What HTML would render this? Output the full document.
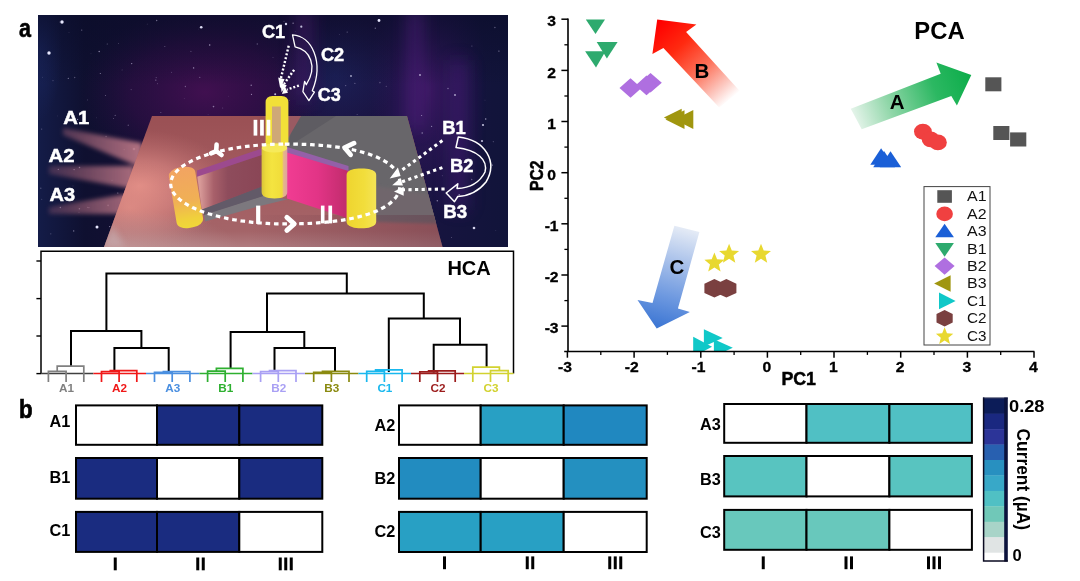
<!DOCTYPE html>
<html><head><meta charset="utf-8"><title>Figure</title>
<style>
html,body{margin:0;padding:0;background:#fff;}
body{width:1080px;height:581px;overflow:hidden;font-family:"Liberation Sans",sans-serif;}
svg{display:block;font-family:"Liberation Sans",sans-serif;}
</style></head><body>
<svg width="1080" height="581" viewBox="0 0 1080 581">
<defs><filter id="soft" x="0" y="0" width="100%" height="100%" filterUnits="userSpaceOnUse" color-interpolation-filters="sRGB"><feGaussianBlur stdDeviation="0.35"/></filter></defs>
<rect width="1080" height="581" fill="#fff"/>
<g filter="url(#soft)">
<rect width="1080" height="581" fill="#fff"/>
<!-- panel a scene -->
<defs>
<clipPath id="sc"><rect x="38" y="15" width="470" height="232"/></clipPath>
<clipPath id="plat"><polygon points="152,116 407,116 442.5,247 104,247"/></clipPath>
<linearGradient id="bg0" x1="0" y1="0" x2="1" y2="0"><stop offset="0" stop-color="#141c48"/><stop offset="0.1" stop-color="#0f1030"/><stop offset="0.45" stop-color="#1c0e3a"/><stop offset="0.75" stop-color="#1a1442"/><stop offset="1" stop-color="#11143a"/></linearGradient>
<radialGradient id="pur1" cx="0.5" cy="0.5" r="0.5"><stop offset="0" stop-color="#4a1056" stop-opacity="0.95"/><stop offset="0.6" stop-color="#3a0e4c" stop-opacity="0.55"/><stop offset="1" stop-color="#2a0e44" stop-opacity="0"/></radialGradient>
<radialGradient id="pur2" cx="0.5" cy="0.5" r="0.5"><stop offset="0" stop-color="#4a1a70" stop-opacity="0.8"/><stop offset="1" stop-color="#301460" stop-opacity="0"/></radialGradient>
<radialGradient id="blu1" cx="0.5" cy="0.5" r="0.5"><stop offset="0" stop-color="#1c2a68" stop-opacity="0.8"/><stop offset="1" stop-color="#1c2a68" stop-opacity="0"/></radialGradient>
<linearGradient id="platg" gradientUnits="userSpaceOnUse" x1="0" y1="116" x2="0" y2="247"><stop offset="0" stop-color="#9a5054"/><stop offset="0.5" stop-color="#a45c60"/><stop offset="0.88" stop-color="#a46468"/><stop offset="1" stop-color="#b07c80"/></linearGradient>
<radialGradient id="glow" cx="0.5" cy="0.5" r="0.5"><stop offset="0" stop-color="#e8948a" stop-opacity="1"/><stop offset="0.45" stop-color="#d68480" stop-opacity="0.65"/><stop offset="1" stop-color="#c07070" stop-opacity="0"/></radialGradient>
<linearGradient id="pinkg" gradientUnits="userSpaceOnUse" x1="288" y1="0" x2="348" y2="0"><stop offset="0" stop-color="#f03c92"/><stop offset="0.5" stop-color="#e23486"/><stop offset="1" stop-color="#c02c6c"/></linearGradient>
<linearGradient id="cylR" gradientUnits="userSpaceOnUse" x1="346" y1="0" x2="377" y2="0"><stop offset="0" stop-color="#eed42e"/><stop offset="0.6" stop-color="#f2de3c"/><stop offset="1" stop-color="#f4e458"/></linearGradient>
<linearGradient id="cylL" gradientUnits="userSpaceOnUse" x1="0" y1="168" x2="0" y2="228"><stop offset="0" stop-color="#f2a462"/><stop offset="0.55" stop-color="#f0b055"/><stop offset="0.85" stop-color="#f0d03c"/><stop offset="1" stop-color="#f0d838"/></linearGradient>
<linearGradient id="cylC" gradientUnits="userSpaceOnUse" x1="261" y1="0" x2="288" y2="0"><stop offset="0" stop-color="#d6c03a"/><stop offset="0.18" stop-color="#ecd93a"/><stop offset="0.4" stop-color="#f4e440"/><stop offset="0.78" stop-color="#f0dc3a"/><stop offset="0.84" stop-color="#e6b48c"/><stop offset="1" stop-color="#dca0a0"/></linearGradient>
<linearGradient id="wallL" gradientUnits="userSpaceOnUse" x1="200" y1="0" x2="262" y2="0"><stop offset="0" stop-color="#d89a98"/><stop offset="0.22" stop-color="#a8606a"/><stop offset="0.45" stop-color="#8e4c5c"/><stop offset="1" stop-color="#8a4656"/></linearGradient>
<linearGradient id="beam" gradientUnits="userSpaceOnUse" x1="50" y1="0" x2="140" y2="0"><stop offset="0" stop-color="#9c5c74" stop-opacity="0.35"/><stop offset="0.5" stop-color="#a4667a" stop-opacity="0.7"/><stop offset="1" stop-color="#b87684" stop-opacity="0.95"/></linearGradient>
<linearGradient id="topdark" x1="0" y1="0" x2="0" y2="1"><stop offset="0" stop-color="#0a0c28" stop-opacity="0.6"/><stop offset="1" stop-color="#0a0c28" stop-opacity="0"/></linearGradient>
<linearGradient id="rdark" gradientUnits="userSpaceOnUse" x1="250" y1="0" x2="445" y2="0"><stop offset="0" stop-color="#603040" stop-opacity="0"/><stop offset="1" stop-color="#603040" stop-opacity="0.4"/></linearGradient>
<radialGradient id="lbl" cx="0.5" cy="0.5" r="0.5"><stop offset="0" stop-color="#c8a4a4" stop-opacity="0.6"/><stop offset="1" stop-color="#c8a4a4" stop-opacity="0"/></radialGradient>
<filter id="bl3" x="-20%" y="-20%" width="140%" height="140%"><feGaussianBlur stdDeviation="3"/></filter>
<filter id="bl2b" x="-20%" y="-40%" width="140%" height="180%"><feGaussianBlur stdDeviation="2.3"/></filter>
<filter id="bl2" x="-20%" y="-20%" width="140%" height="140%"><feGaussianBlur stdDeviation="1.6"/></filter>
<filter id="bl8" x="-30%" y="-30%" width="160%" height="160%"><feGaussianBlur stdDeviation="8"/></filter>
<filter id="bl1" x="-20%" y="-20%" width="140%" height="140%"><feGaussianBlur stdDeviation="0.7"/></filter>
</defs>
<g clip-path="url(#sc)">
<rect x="38" y="15" width="470" height="232" fill="url(#bg0)"/>
<ellipse cx="205" cy="92" rx="125" ry="85" fill="url(#pur1)" opacity="0.85"/>
<ellipse cx="428" cy="90" rx="60" ry="130" fill="url(#pur2)" opacity="0.85"/>
<ellipse cx="335" cy="75" rx="60" ry="65" fill="url(#blu1)" opacity="0.7"/>
<ellipse cx="40" cy="50" rx="22" ry="70" fill="url(#blu1)" opacity="0.7"/>
<rect x="38" y="15" width="470" height="70" fill="url(#topdark)"/>
<g filter="url(#bl8)" opacity="0.5"><rect x="408" y="10" width="14" height="120" fill="#5a2088"/><rect x="450" y="60" width="18" height="150" fill="#4a1c78"/><rect x="296" y="10" width="16" height="90" fill="#501a70"/></g>
<circle cx="62" cy="22" r="1.7" fill="#e8e8ff" opacity="1" filter="url(#bl1)"/>
<circle cx="49" cy="53" r="1.7" fill="#e8e8ff" opacity="1" filter="url(#bl1)"/>
<circle cx="379" cy="20.5" r="1.4" fill="#e8e8ff" opacity="1" filter="url(#bl1)"/>
<circle cx="97" cy="227" r="1.5" fill="#e8e8ff" opacity="1" filter="url(#bl1)"/>
<circle cx="134" cy="149" r="1.3" fill="#e8e8ff" opacity="0.9" filter="url(#bl1)"/>
<circle cx="286" cy="24" r="1.2" fill="#e8e8ff" opacity="0.9" filter="url(#bl1)"/>
<circle cx="474" cy="228" r="1.3" fill="#e8e8ff" opacity="0.9" filter="url(#bl1)"/>
<circle cx="483" cy="125" r="1.1" fill="#e8e8ff" opacity="0.8" filter="url(#bl1)"/>
<circle cx="201.2" cy="27.2" r="1.3" fill="#e8e8ff" opacity="0.95" filter="url(#bl1)"/>
<circle cx="301.3" cy="26.7" r="1.1" fill="#e8e8ff" opacity="0.8" filter="url(#bl1)"/>
<circle cx="275.2" cy="94.2" r="1.0" fill="#e8e8ff" opacity="0.8" filter="url(#bl1)"/>
<circle cx="482" cy="141" r="1.1" fill="#e8e8ff" opacity="0.8" filter="url(#bl1)"/>
<circle cx="351" cy="76" r="0.9" fill="#e8e8ff" opacity="0.7" filter="url(#bl1)"/>
<circle cx="420" cy="75" r="0.9" fill="#e8e8ff" opacity="0.7" filter="url(#bl1)"/>
<circle cx="455" cy="95" r="0.9" fill="#e8e8ff" opacity="0.7" filter="url(#bl1)"/>
<circle cx="190.9" cy="51.4" r="0.64" fill="#d8d0f0" opacity="0.28"/>
<circle cx="289.7" cy="100.4" r="0.38" fill="#d8d0f0" opacity="0.48"/>
<circle cx="57.5" cy="115.9" r="0.38" fill="#d8d0f0" opacity="0.29"/>
<circle cx="237.8" cy="205.5" r="0.41" fill="#d8d0f0" opacity="0.35"/>
<circle cx="332.4" cy="233.1" r="0.61" fill="#d8d0f0" opacity="0.43"/>
<circle cx="494.9" cy="27.6" r="0.74" fill="#d8d0f0" opacity="0.38"/>
<circle cx="107.2" cy="43.9" r="0.49" fill="#d8d0f0" opacity="0.62"/>
<circle cx="124.2" cy="149.6" r="0.64" fill="#d8d0f0" opacity="0.42"/>
<circle cx="295.2" cy="31.3" r="0.38" fill="#d8d0f0" opacity="0.34"/>
<circle cx="357.1" cy="114.5" r="0.49" fill="#d8d0f0" opacity="0.51"/>
<circle cx="251.2" cy="85.3" r="0.71" fill="#d8d0f0" opacity="0.56"/>
<circle cx="153.7" cy="148.0" r="0.59" fill="#d8d0f0" opacity="0.64"/>
<circle cx="379.9" cy="82.6" r="0.79" fill="#d8d0f0" opacity="0.30"/>
<circle cx="234.8" cy="189.6" r="0.42" fill="#d8d0f0" opacity="0.47"/>
<circle cx="58.3" cy="169.4" r="0.69" fill="#d8d0f0" opacity="0.51"/>
<circle cx="448.0" cy="88.5" r="0.66" fill="#d8d0f0" opacity="0.52"/>
<circle cx="310.2" cy="121.0" r="0.73" fill="#d8d0f0" opacity="0.68"/>
<circle cx="260.9" cy="168.4" r="0.38" fill="#d8d0f0" opacity="0.57"/>
<circle cx="341.6" cy="243.4" r="0.72" fill="#d8d0f0" opacity="0.38"/>
<circle cx="219.8" cy="169.5" r="0.36" fill="#d8d0f0" opacity="0.46"/>
<circle cx="118.3" cy="43.7" r="0.38" fill="#d8d0f0" opacity="0.60"/>
<circle cx="100.3" cy="73.5" r="0.53" fill="#d8d0f0" opacity="0.64"/>
<circle cx="77.6" cy="119.4" r="0.60" fill="#d8d0f0" opacity="0.65"/>
<circle cx="421.8" cy="214.0" r="0.48" fill="#d8d0f0" opacity="0.44"/>
<circle cx="207.2" cy="218.6" r="0.78" fill="#d8d0f0" opacity="0.32"/>
<circle cx="122.1" cy="69.9" r="0.46" fill="#d8d0f0" opacity="0.47"/>
<circle cx="314.5" cy="76.9" r="0.35" fill="#d8d0f0" opacity="0.44"/>
<circle cx="212.1" cy="146.1" r="0.78" fill="#d8d0f0" opacity="0.56"/>
<circle cx="280.2" cy="157.8" r="0.65" fill="#d8d0f0" opacity="0.27"/>
<circle cx="459.2" cy="194.8" r="0.74" fill="#d8d0f0" opacity="0.61"/>
<circle cx="222.8" cy="108.0" r="0.40" fill="#d8d0f0" opacity="0.54"/>
<circle cx="69.0" cy="32.4" r="0.44" fill="#d8d0f0" opacity="0.32"/>
<circle cx="198.5" cy="29.0" r="0.35" fill="#d8d0f0" opacity="0.32"/>
<circle cx="87.3" cy="99.9" r="0.36" fill="#d8d0f0" opacity="0.64"/>
<circle cx="326.2" cy="50.9" r="0.46" fill="#d8d0f0" opacity="0.41"/>
<circle cx="209.7" cy="45.0" r="0.73" fill="#d8d0f0" opacity="0.70"/>
<circle cx="257.2" cy="127.3" r="0.39" fill="#d8d0f0" opacity="0.30"/>
<circle cx="199.7" cy="77.4" r="0.72" fill="#d8d0f0" opacity="0.32"/>
<circle cx="50.8" cy="233.8" r="0.59" fill="#d8d0f0" opacity="0.32"/>
<circle cx="293.1" cy="23.2" r="0.59" fill="#d8d0f0" opacity="0.69"/>
<circle cx="442.3" cy="175.7" r="0.47" fill="#d8d0f0" opacity="0.42"/>
<circle cx="117.8" cy="193.0" r="0.59" fill="#d8d0f0" opacity="0.60"/>
<circle cx="193.6" cy="67.9" r="0.72" fill="#d8d0f0" opacity="0.69"/>
<circle cx="437.3" cy="200.8" r="0.72" fill="#d8d0f0" opacity="0.58"/>
<circle cx="145.7" cy="135.0" r="0.51" fill="#d8d0f0" opacity="0.26"/>
<circle cx="53.0" cy="80.7" r="0.47" fill="#d8d0f0" opacity="0.56"/>
<circle cx="485.7" cy="119.0" r="0.77" fill="#d8d0f0" opacity="0.69"/>
<circle cx="485.0" cy="100.1" r="0.45" fill="#d8d0f0" opacity="0.35"/>
<circle cx="131.7" cy="63.6" r="0.63" fill="#d8d0f0" opacity="0.66"/>
<circle cx="431.6" cy="126.3" r="0.64" fill="#d8d0f0" opacity="0.61"/>
<circle cx="79.5" cy="167.6" r="0.76" fill="#d8d0f0" opacity="0.60"/>
<circle cx="389.6" cy="126.0" r="0.43" fill="#d8d0f0" opacity="0.61"/>
<circle cx="195.0" cy="199.6" r="0.79" fill="#d8d0f0" opacity="0.43"/>
<circle cx="227.0" cy="232.9" r="0.68" fill="#d8d0f0" opacity="0.33"/>
<circle cx="99.2" cy="51.5" r="0.76" fill="#d8d0f0" opacity="0.61"/>
<circle cx="108.1" cy="205.4" r="0.79" fill="#d8d0f0" opacity="0.55"/>
<circle cx="203.3" cy="142.1" r="0.41" fill="#d8d0f0" opacity="0.26"/>
<circle cx="492.4" cy="165.1" r="0.59" fill="#d8d0f0" opacity="0.67"/>
<circle cx="242.2" cy="215.8" r="0.72" fill="#d8d0f0" opacity="0.34"/>
<circle cx="157.4" cy="83.8" r="0.46" fill="#d8d0f0" opacity="0.51"/>
<circle cx="160.9" cy="112.5" r="0.41" fill="#d8d0f0" opacity="0.66"/>
<circle cx="204.9" cy="121.5" r="0.61" fill="#d8d0f0" opacity="0.66"/>
<circle cx="236.0" cy="226.2" r="0.58" fill="#d8d0f0" opacity="0.49"/>
<circle cx="284.0" cy="21.3" r="0.55" fill="#d8d0f0" opacity="0.33"/>
<circle cx="41.8" cy="199.2" r="0.43" fill="#d8d0f0" opacity="0.46"/>
<circle cx="377.9" cy="143.9" r="0.50" fill="#d8d0f0" opacity="0.48"/>
<circle cx="298.8" cy="195.8" r="0.40" fill="#d8d0f0" opacity="0.50"/>
<circle cx="155.8" cy="80.1" r="0.70" fill="#d8d0f0" opacity="0.48"/>
<circle cx="301.8" cy="190.3" r="0.76" fill="#d8d0f0" opacity="0.45"/>
<circle cx="325.4" cy="132.3" r="0.58" fill="#d8d0f0" opacity="0.56"/>
<circle cx="250.8" cy="138.6" r="0.57" fill="#d8d0f0" opacity="0.67"/>
<circle cx="365.8" cy="216.9" r="0.77" fill="#d8d0f0" opacity="0.37"/>
<circle cx="300.7" cy="232.1" r="0.73" fill="#d8d0f0" opacity="0.31"/>
<circle cx="96.7" cy="117.8" r="0.38" fill="#d8d0f0" opacity="0.36"/>
<circle cx="74.1" cy="169.6" r="0.70" fill="#d8d0f0" opacity="0.65"/>
<circle cx="112.0" cy="180.3" r="0.65" fill="#d8d0f0" opacity="0.31"/>
<circle cx="451.4" cy="237.6" r="0.45" fill="#d8d0f0" opacity="0.68"/>
<circle cx="225.6" cy="128.1" r="0.80" fill="#d8d0f0" opacity="0.62"/>
<circle cx="115.2" cy="115.4" r="0.58" fill="#d8d0f0" opacity="0.40"/>
<circle cx="131.2" cy="89.6" r="0.67" fill="#d8d0f0" opacity="0.26"/>
<circle cx="298.2" cy="117.4" r="0.36" fill="#d8d0f0" opacity="0.40"/>
<circle cx="330.8" cy="133.8" r="0.38" fill="#d8d0f0" opacity="0.69"/>
<circle cx="407.4" cy="238.5" r="0.40" fill="#d8d0f0" opacity="0.37"/>
<circle cx="58.4" cy="194.6" r="0.47" fill="#d8d0f0" opacity="0.31"/>
<circle cx="236.8" cy="224.8" r="0.72" fill="#d8d0f0" opacity="0.37"/>
<circle cx="109.6" cy="226.6" r="0.61" fill="#d8d0f0" opacity="0.57"/>
<circle cx="81.7" cy="30.1" r="0.66" fill="#d8d0f0" opacity="0.44"/>
<circle cx="73.7" cy="230.9" r="0.64" fill="#d8d0f0" opacity="0.61"/>
<circle cx="79.0" cy="212.2" r="0.38" fill="#d8d0f0" opacity="0.64"/>
<circle cx="251.5" cy="94.3" r="0.60" fill="#d8d0f0" opacity="0.67"/>
<circle cx="164.8" cy="46.5" r="0.59" fill="#d8d0f0" opacity="0.36"/>
<circle cx="91.0" cy="53.8" r="0.37" fill="#d8d0f0" opacity="0.34"/>
<circle cx="185.4" cy="86.5" r="0.69" fill="#d8d0f0" opacity="0.38"/>
<circle cx="273.0" cy="57.6" r="0.51" fill="#d8d0f0" opacity="0.26"/>
<circle cx="156.7" cy="20.5" r="0.68" fill="#d8d0f0" opacity="0.50"/>
<circle cx="128.3" cy="125.2" r="0.77" fill="#d8d0f0" opacity="0.30"/>
<circle cx="421.6" cy="115.5" r="0.57" fill="#d8d0f0" opacity="0.63"/>
<circle cx="223.2" cy="132.5" r="0.66" fill="#d8d0f0" opacity="0.69"/>
<circle cx="199.7" cy="206.8" r="0.67" fill="#d8d0f0" opacity="0.54"/>
<circle cx="228.6" cy="96.2" r="0.37" fill="#d8d0f0" opacity="0.31"/>
<circle cx="73.0" cy="185.9" r="0.47" fill="#d8d0f0" opacity="0.32"/>
<circle cx="79.4" cy="208.8" r="0.74" fill="#d8d0f0" opacity="0.55"/>
<circle cx="171.4" cy="72.2" r="0.48" fill="#d8d0f0" opacity="0.46"/>
<circle cx="113.4" cy="118.6" r="0.47" fill="#d8d0f0" opacity="0.68"/>
<circle cx="493.2" cy="141.7" r="0.46" fill="#d8d0f0" opacity="0.68"/>
<circle cx="184.2" cy="98.3" r="0.35" fill="#d8d0f0" opacity="0.42"/>
<circle cx="261.2" cy="131.6" r="0.44" fill="#d8d0f0" opacity="0.48"/>
<circle cx="42.3" cy="77.2" r="0.39" fill="#d8d0f0" opacity="0.43"/>
<circle cx="59.4" cy="22.1" r="0.49" fill="#d8d0f0" opacity="0.35"/>
<circle cx="312.9" cy="137.7" r="0.69" fill="#d8d0f0" opacity="0.55"/>
<circle cx="373.7" cy="217.4" r="0.53" fill="#d8d0f0" opacity="0.40"/>
<circle cx="498.9" cy="51.1" r="0.68" fill="#d8d0f0" opacity="0.54"/>
<circle cx="60.4" cy="207.4" r="0.75" fill="#d8d0f0" opacity="0.53"/>
<circle cx="382.0" cy="202.2" r="0.41" fill="#d8d0f0" opacity="0.49"/>
<circle cx="275.0" cy="207.4" r="0.71" fill="#d8d0f0" opacity="0.62"/>
<circle cx="312.2" cy="220.6" r="0.66" fill="#d8d0f0" opacity="0.56"/>
<circle cx="147.2" cy="24.1" r="0.41" fill="#d8d0f0" opacity="0.41"/>
<circle cx="88.9" cy="207.6" r="0.60" fill="#d8d0f0" opacity="0.53"/>
<circle cx="331.8" cy="172.2" r="0.57" fill="#d8d0f0" opacity="0.25"/>
<circle cx="411.7" cy="187.6" r="0.58" fill="#d8d0f0" opacity="0.49"/>
<circle cx="347.2" cy="32.1" r="0.68" fill="#d8d0f0" opacity="0.36"/>
<circle cx="74.7" cy="77.5" r="0.68" fill="#d8d0f0" opacity="0.34"/>
<circle cx="384.8" cy="239.5" r="0.57" fill="#d8d0f0" opacity="0.42"/>
<circle cx="263.2" cy="172.9" r="0.70" fill="#d8d0f0" opacity="0.53"/>
<circle cx="339.5" cy="34.7" r="0.42" fill="#d8d0f0" opacity="0.36"/>
<circle cx="386.3" cy="86.4" r="0.61" fill="#d8d0f0" opacity="0.26"/>
<circle cx="68.3" cy="78.3" r="0.65" fill="#d8d0f0" opacity="0.56"/>
<circle cx="354.9" cy="83.3" r="0.58" fill="#d8d0f0" opacity="0.46"/>
<circle cx="257.3" cy="44.0" r="0.75" fill="#d8d0f0" opacity="0.34"/>
<circle cx="495.8" cy="230.5" r="0.36" fill="#d8d0f0" opacity="0.46"/>
<circle cx="422.1" cy="237.7" r="0.55" fill="#d8d0f0" opacity="0.37"/>
<circle cx="137.8" cy="232.6" r="0.44" fill="#d8d0f0" opacity="0.51"/>
<circle cx="106.1" cy="136.5" r="0.78" fill="#d8d0f0" opacity="0.31"/>
<circle cx="422.2" cy="133.0" r="0.75" fill="#d8d0f0" opacity="0.57"/>
<circle cx="147.8" cy="221.7" r="0.57" fill="#d8d0f0" opacity="0.26"/>
<circle cx="41.7" cy="129.1" r="0.55" fill="#d8d0f0" opacity="0.39"/>
<circle cx="105.6" cy="95.4" r="0.49" fill="#d8d0f0" opacity="0.63"/>
<circle cx="40.8" cy="188.2" r="0.73" fill="#d8d0f0" opacity="0.30"/>
<circle cx="471.7" cy="179.6" r="0.76" fill="#d8d0f0" opacity="0.38"/>
<circle cx="213.5" cy="106.6" r="0.80" fill="#d8d0f0" opacity="0.52"/>
<circle cx="208.1" cy="114.6" r="0.47" fill="#d8d0f0" opacity="0.27"/>
<circle cx="87.4" cy="207.3" r="0.48" fill="#d8d0f0" opacity="0.67"/>
<circle cx="156.2" cy="77.6" r="0.58" fill="#d8d0f0" opacity="0.34"/>
<circle cx="214.0" cy="235.0" r="0.75" fill="#d8d0f0" opacity="0.62"/>
<circle cx="334.0" cy="225.3" r="0.77" fill="#d8d0f0" opacity="0.50"/>
<circle cx="375.3" cy="28.3" r="0.68" fill="#d8d0f0" opacity="0.45"/>
<circle cx="390.7" cy="163.9" r="0.48" fill="#d8d0f0" opacity="0.27"/>
<circle cx="471.9" cy="46.0" r="0.56" fill="#d8d0f0" opacity="0.40"/>
<circle cx="178.8" cy="185.5" r="0.79" fill="#d8d0f0" opacity="0.37"/>
<circle cx="345.7" cy="85.6" r="0.60" fill="#d8d0f0" opacity="0.43"/>
<g filter="url(#bl2b)">
<polygon points="63,128 63,135 142,168 142,143" fill="url(#beam)"/>
<polygon points="49,166 49,174 134,189 134,166" fill="url(#beam)"/>
<polygon points="49,207 49,214 126,214 126,194" fill="url(#beam)"/>
</g>
<polygon points="152,116 407,116 442.5,247 104,247" fill="url(#platg)"/>
<g clip-path="url(#plat)">
<ellipse cx="140" cy="186" rx="95" ry="56" fill="url(#glow)"/>
<ellipse cx="130" cy="208" rx="85" ry="50" fill="url(#glow)" opacity="0.6"/>
<ellipse cx="125" cy="250" rx="115" ry="40" fill="url(#lbl)"/>
<polygon points="104,247 125,247 112,225" fill="#c8b0b4" opacity="0.6" filter="url(#bl3)"/>
<polygon points="289,116 410,116 445,222 374,217 347,217 347,170 288,150 286,143" fill="#68666a"/>
<polygon points="294,116 336,116 288,147" fill="#5e5c62"/>
<polygon points="287,116 301,116 287,140" fill="#9a5a62"/>
<polygon points="376,186 440,196 445,224 376,222" fill="#70666c" filter="url(#bl2)"/>
<rect x="250" y="215" width="200" height="35" fill="url(#rdark)"/>
<polygon points="201.8,209 262,186 263.5,196.5 204,215.5" fill="#625a68"/>
<polygon points="204,215 263.5,196 288,199.2 262,205.5 205,221.5" fill="#7c787e"/>
</g>
<polygon points="197,174 262,153 262,186.4 201.8,209.4" fill="url(#wallL)"/>
<polygon points="197,170.5 262,148.5 262,155 197,176.8" fill="#9c4a8e"/>
<polygon points="287,151 348.5,170 347,218 287,198.5" fill="url(#pinkg)"/>
<polygon points="287,147 348.5,166 348.5,171 287,152.5" fill="#9460a8"/>
<path d="M265.6,146 V102.5 Q265.6,96 272.5,96 H281.5 Q288.4,96 288.4,102.5 V146 Z" fill="#f2e038"/>
<rect x="272" y="106.5" width="8.8" height="38" fill="#cfa877"/>
<path d="M261.6,148 Q261.6,143.4 268,143.4 H281 Q287.3,143.4 287.3,148 V192 Q287.3,198.4 274.5,198.4 Q261.6,198.4 261.6,192 Z" fill="url(#cylC)"/>
<ellipse cx="274.5" cy="148" rx="12.6" ry="4.6" fill="#f6ea5a"/>
<g transform="rotate(-9.5 186 197.5)"><rect x="172.6" y="166.8" width="26.8" height="61.2" rx="11.5" ry="7" fill="url(#cylL)"/></g>
<rect x="346.6" y="168.4" width="29.6" height="59.8" rx="12" ry="6.5" fill="url(#cylR)"/>
<polygon points="284.9,144.1 289.7,144.1 293.7,144.1 297.5,144.2 301.0,144.3 304.5,144.4 307.8,144.5 311.1,144.7 314.2,144.9 317.4,145.1 320.4,145.3 323.4,145.5 326.3,145.8 329.2,146.1 332.0,146.4 334.8,146.8 337.5,147.1 340.2,147.5 342.8,147.9 345.3,148.3 347.8,148.8 350.3,149.3 352.7,149.8 355.0,150.3 357.3,150.8 359.6,151.4 361.8,152.0 363.9,152.6 366.0,153.2 368.0,153.8 370.0,154.5 371.9,155.2 373.7,155.9 375.5,156.6 377.3,157.3 378.9,158.1 380.5,158.9 382.1,159.7 383.6,160.5 385.0,161.3 386.4,162.2 387.7,163.0 388.9,163.9 390.1,164.8 391.2,165.8 392.2,166.7 393.2,167.7 394.1,168.6 395.0,169.6 395.8,170.6 396.5,171.7 397.1,172.7 397.7,173.8 398.2,174.9 398.7,176.0 399.0,177.2 399.4,178.4 399.6,179.6 399.8,180.9 399.9,182.3 399.9,184.0 399.9,185.7 399.8,187.1 399.6,188.4 399.4,189.6 399.0,190.8 398.7,192.0 398.2,193.1 397.7,194.2 397.1,195.3 396.5,196.3 395.8,197.4 395.0,198.4 394.1,199.4 393.2,200.3 392.2,201.3 391.2,202.2 390.1,203.2 388.9,204.1 387.7,205.0 386.4,205.8 385.0,206.7 383.6,207.5 382.1,208.3 380.5,209.1 378.9,209.9 377.3,210.7 375.5,211.4 373.7,212.1 371.9,212.8 370.0,213.5 368.0,214.2 366.0,214.8 363.9,215.4 361.8,216.0 359.6,216.6 357.3,217.2 355.0,217.7 352.7,218.2 350.3,218.7 347.8,219.2 345.3,219.7 342.8,220.1 340.2,220.5 337.5,220.9 334.8,221.2 332.0,221.6 329.2,221.9 326.3,222.2 323.4,222.5 320.4,222.7 317.4,222.9 314.2,223.1 311.1,223.3 307.8,223.5 304.5,223.6 301.0,223.7 297.5,223.8 293.7,223.9 289.7,223.9 284.9,223.9 281.9,223.9 278.9,223.8 275.9,223.8 273.0,223.7 270.0,223.6 267.0,223.4 264.1,223.2 261.2,223.0 258.2,222.8 255.3,222.5 252.5,222.3 249.6,221.9 246.8,221.6 244.0,221.2 241.2,220.9 238.5,220.5 235.7,220.0 233.1,219.6 230.4,219.1 227.8,218.6 225.2,218.0 222.7,217.5 220.2,216.9 217.8,216.3 215.4,215.7 213.0,215.0 210.7,214.3 208.5,213.7 206.3,212.9 204.1,212.2 202.1,211.5 200.0,210.7 198.1,209.9 196.1,209.1 194.3,208.3 192.5,207.5 190.8,206.6 189.1,205.7 187.5,204.8 186.0,204.0 184.5,203.0 183.1,202.1 181.8,201.2 180.6,200.2 179.4,199.3 178.3,198.3 177.3,197.3 176.3,196.3 175.4,195.3 174.6,194.3 173.9,193.3 173.2,192.3 172.6,191.3 172.1,190.2 171.7,189.2 171.3,188.2 171.1,187.1 170.9,186.1 170.7,185.0 170.7,184.0 170.7,183.0 170.9,181.9 171.1,180.9 171.3,179.8 171.7,178.8 172.1,177.8 172.6,176.7 173.2,175.7 173.9,174.7 174.6,173.7 175.4,172.7 176.3,171.7 177.3,170.7 178.3,169.7 179.4,168.7 180.6,167.8 181.8,166.8 183.1,165.9 184.5,165.0 186.0,164.1 187.5,163.2 189.1,162.3 190.8,161.4 192.5,160.5 194.3,159.7 196.1,158.9 198.1,158.1 200.0,157.3 202.1,156.5 204.1,155.8 206.3,155.1 208.5,154.3 210.7,153.7 213.0,153.0 215.4,152.3 217.8,151.7 220.2,151.1 222.7,150.5 225.2,150.0 227.8,149.4 230.4,148.9 233.1,148.4 235.7,148.0 238.5,147.5 241.2,147.1 244.0,146.8 246.8,146.4 249.6,146.1 252.5,145.7 255.3,145.5 258.2,145.2 261.2,145.0 264.1,144.8 267.0,144.6 270.0,144.4 273.0,144.3 275.9,144.2 278.9,144.2 281.9,144.1" fill="none" stroke="#fff" stroke-width="3.2" stroke-dasharray="4.6 3.8"/>
<path d="M286.9,217.4 L294.2,223.9 L286.9,230.4" fill="none" stroke="#fff" stroke-linecap="round" stroke-linejoin="round" stroke-width="5"/>
<path d="M354,143.2 L344.6,147.6 L350.6,154.8" fill="none" stroke="#fff" stroke-linecap="round" stroke-linejoin="round" stroke-width="4.8"/>
<path d="M216.6,144.6 L216.2,151 L221.6,155 M216.2,151 L211,153.4" fill="none" stroke="#fff" stroke-linecap="round" stroke-linejoin="round" stroke-width="4.6"/>
<rect x="253.6" y="119.8" width="3.7" height="15.8" fill="#fff"/>
<rect x="260.1" y="119.8" width="3.7" height="15.8" fill="#fff"/>
<rect x="266.6" y="119.8" width="3.7" height="15.8" fill="#fff"/>
<rect x="256.1" y="205.6" width="4.2" height="18.3" fill="#fff"/>
<rect x="320.9" y="205.6" width="3.6" height="17.8" fill="#fff"/>
<rect x="328.4" y="205.6" width="3.7" height="17.8" fill="#fff"/>
<path d="M288.7,45.8 L281,78" fill="none" stroke="#fff" stroke-width="2.4" stroke-dasharray="2 1.9"/>
<path d="M294.1,69.9 L284,84" fill="none" stroke="#fff" stroke-width="2.4" stroke-dasharray="2 1.9"/>
<path d="M298.9,85.6 L287,89.6" fill="none" stroke="#fff" stroke-width="2.4" stroke-dasharray="2 1.9"/>
<polygon points="278.2,77.4 284.6,79.2 280.2,88.4" fill="#fff"/>
<polygon points="280.3,82.2 286.8,85.4 281.6,92" fill="#fff"/>
<polygon points="284.6,86 288,92.8 282,94" fill="#fff"/>
<path d="M292.5,34.8 C312,36 324,62 312.3,90.8 L314.4,92.1 L308.9,100.6 L302.9,91.6 L304.6,81.3 L306.3,84.7 C318,66 310,50 295.1,46.9 Z" fill="none" stroke="#fff" stroke-width="1.3" stroke-linejoin="round"/>
<path d="M442.4,140.6 L400,171.5" fill="none" stroke="#fff" stroke-width="3.1" stroke-dasharray="3.2 3.4"/>
<path d="M442.4,167.6 L402,181.8" fill="none" stroke="#fff" stroke-width="3.1" stroke-dasharray="3.2 3.4"/>
<path d="M444.6,189 L403,189.8" fill="none" stroke="#fff" stroke-width="3.1" stroke-dasharray="3.2 3.4"/>
<polygon points="389.7,178.6 397.9,167.4 400.6,175.9" fill="#fff"/>
<polygon points="392.2,185.2 400.2,178.2 403,185.4" fill="#fff"/>
<polygon points="394,191.4 403.7,186.7 403.7,195.7" fill="#fff"/>
<path d="M458.3,137 C486,140 498,162 486,182 C478,192 468,196 457.8,196.5 L454.5,201.7 L446.2,193 L457.8,183.8 L457,188.5 C470,188 480,182 485,172 C488,160 478,150 456,147.5 Z" fill="none" stroke="#fff" stroke-width="1.5" stroke-linejoin="round"/>
</g>
<text x="63.3" y="123.6" font-size="18.5" fill="#fff" font-weight="bold" text-anchor="start" textLength="26" lengthAdjust="spacingAndGlyphs" stroke="#fff" stroke-width="0.45">A1</text>
<text x="48.5" y="161.6" font-size="18.5" fill="#fff" font-weight="bold" text-anchor="start" textLength="26" lengthAdjust="spacingAndGlyphs" stroke="#fff" stroke-width="0.45">A2</text>
<text x="49.6" y="201" font-size="18.5" fill="#fff" font-weight="bold" text-anchor="start" textLength="25.6" lengthAdjust="spacingAndGlyphs" stroke="#fff" stroke-width="0.45">A3</text>
<text x="262" y="37.7" font-size="18.5" fill="#fff" font-weight="bold" text-anchor="start" textLength="23.2" lengthAdjust="spacingAndGlyphs" stroke="#fff" stroke-width="0.45">C1</text>
<text x="320.9" y="60.6" font-size="18.5" fill="#fff" font-weight="bold" text-anchor="start" textLength="23.3" lengthAdjust="spacingAndGlyphs" stroke="#fff" stroke-width="0.45">C2</text>
<text x="317.8" y="100.6" font-size="18.5" fill="#fff" font-weight="bold" text-anchor="start" textLength="23" lengthAdjust="spacingAndGlyphs" stroke="#fff" stroke-width="0.45">C3</text>
<text x="442.2" y="134.1" font-size="18.5" fill="#fff" font-weight="bold" text-anchor="start" textLength="23.5" lengthAdjust="spacingAndGlyphs" stroke="#fff" stroke-width="0.45">B1</text>
<text x="450" y="172.2" font-size="18.5" fill="#fff" font-weight="bold" text-anchor="start" textLength="23.5" lengthAdjust="spacingAndGlyphs" stroke="#fff" stroke-width="0.45">B2</text>
<text x="443.3" y="217.6" font-size="18.5" fill="#fff" font-weight="bold" text-anchor="start" textLength="23.9" lengthAdjust="spacingAndGlyphs" stroke="#fff" stroke-width="0.45">B3</text>
<text x="18.9" y="37" font-size="26" fill="#000" font-weight="bold" text-anchor="start" textLength="12" lengthAdjust="spacingAndGlyphs" stroke="#000" stroke-width="0.6">a</text>
<!-- HCA dendrogram -->
<g id="hca" fill="none">
<path d="M41,373.6 V251.3 H513.5 V373.6" stroke="#000" stroke-width="1.5"/>
<path d="M36.4,261 H41" stroke="#000" stroke-width="1.4"/>
<path d="M36.4,298.6 H41" stroke="#000" stroke-width="1.4"/>
<path d="M36.4,336 H41" stroke="#000" stroke-width="1.4"/>
<path d="M36.4,373.6 H41" stroke="#000" stroke-width="1.4"/>
<path d="M41,373.6 H93.4" stroke="#404040" stroke-width="1.5"/>
<path d="M93.4,373.6 H146" stroke="#f01818" stroke-width="1.5"/>
<path d="M146,373.6 H199.5" stroke="#4a8fe0" stroke-width="1.5"/>
<path d="M199.5,373.6 H252.5" stroke="#2eb030" stroke-width="1.5"/>
<path d="M252.5,373.6 H305" stroke="#a9a0f4" stroke-width="1.5"/>
<path d="M305,373.6 H358.5" stroke="#8a8a10" stroke-width="1.5"/>
<path d="M358.5,373.6 H411" stroke="#19b8ee" stroke-width="1.5"/>
<path d="M411,373.6 H464" stroke="#9c1c1c" stroke-width="1.5"/>
<path d="M464,373.6 H513.5" stroke="#d2d230" stroke-width="1.5"/>
<path d="M106.4,331 V273.6 H346.8 V293.4" stroke="#000" stroke-width="2"/>
<path d="M267,332 V293.4 H423.8 V318.4" stroke="#000" stroke-width="2"/>
<path d="M388.8,372 V318.4 H460 V344.8" stroke="#000" stroke-width="2"/>
<path d="M433.7,372.5 V344.8 H486.6 V368" stroke="#000" stroke-width="2"/>
<path d="M71,366 V331 H141.4 V348" stroke="#000" stroke-width="2"/>
<path d="M114.4,371 V348 H168.7 V372" stroke="#000" stroke-width="2"/>
<path d="M230.6,368.5 V332 H304.3 V348" stroke="#000" stroke-width="2"/>
<path d="M274.5,371 V348 H335 V372" stroke="#000" stroke-width="2"/>
<path d="M48.4,382 V371.3 H66.1 V382 M57.2,371.3 V366.2 H83.8 V382" stroke="#808080" stroke-width="1.7"/>
<path d="M101.5,382 V371.6 H119.1 V382 M110.3,371.6 V370.6 H136.8 V382" stroke="#f01818" stroke-width="1.7"/>
<path d="M154.5,382 V372.4 H172.2 V382 M163.4,372.4 V371.6 H189.9 V382" stroke="#4a8fe0" stroke-width="1.7"/>
<path d="M207.6,382 V371.2 H225.2 V382 M216.4,371.2 V368.4 H242.9 V382" stroke="#2eb030" stroke-width="1.7"/>
<path d="M260.6,382 V371.6 H278.3 V382 M269.5,371.6 V370.6 H296.0 V382" stroke="#a9a0f4" stroke-width="1.7"/>
<path d="M313.7,382 V372.4 H331.4 V382 M322.5,372.4 V371.4 H349.0 V382" stroke="#8a8a10" stroke-width="1.7"/>
<path d="M366.7,382 V371.4 H384.4 V382 M375.6,371.4 V369.8 H402.1 V382" stroke="#19b8ee" stroke-width="1.7"/>
<path d="M419.8,382 V371.8 H437.5 V382 M428.6,371.8 V370.8 H455.2 V382" stroke="#9c1c1c" stroke-width="1.7"/>
<path d="M490.5,382 V370.6 H508.2 V382 M499.4,370.6 V367.2 H472.8 V382" stroke="#d2d230" stroke-width="1.7"/>
</g>
<text x="66.585" y="392.3" font-size="11.3" fill="#808080" font-weight="bold" text-anchor="middle" textLength="15" lengthAdjust="spacingAndGlyphs" >A1</text>
<text x="119.63999999999999" y="392.3" font-size="11.3" fill="#f01818" font-weight="bold" text-anchor="middle" textLength="15" lengthAdjust="spacingAndGlyphs" >A2</text>
<text x="172.695" y="392.3" font-size="11.3" fill="#4a8fe0" font-weight="bold" text-anchor="middle" textLength="15" lengthAdjust="spacingAndGlyphs" >A3</text>
<text x="225.75" y="392.3" font-size="11.3" fill="#2eb030" font-weight="bold" text-anchor="middle" textLength="15" lengthAdjust="spacingAndGlyphs" >B1</text>
<text x="278.80499999999995" y="392.3" font-size="11.3" fill="#a9a0f4" font-weight="bold" text-anchor="middle" textLength="15" lengthAdjust="spacingAndGlyphs" >B2</text>
<text x="331.85999999999996" y="392.3" font-size="11.3" fill="#8a8a10" font-weight="bold" text-anchor="middle" textLength="15" lengthAdjust="spacingAndGlyphs" >B3</text>
<text x="384.91499999999996" y="392.3" font-size="11.3" fill="#19b8ee" font-weight="bold" text-anchor="middle" textLength="15" lengthAdjust="spacingAndGlyphs" >C1</text>
<text x="437.96999999999997" y="392.3" font-size="11.3" fill="#9c1c1c" font-weight="bold" text-anchor="middle" textLength="15" lengthAdjust="spacingAndGlyphs" >C2</text>
<text x="491.0249999999999" y="392.3" font-size="11.3" fill="#d2d230" font-weight="bold" text-anchor="middle" textLength="15" lengthAdjust="spacingAndGlyphs" >C3</text>
<text x="447.4" y="275.4" font-size="19.5" fill="#000" font-weight="bold" text-anchor="start" textLength="43.4" lengthAdjust="spacingAndGlyphs" >HCA</text>
<!-- PCA panel -->
<defs>
<linearGradient id="gB" gradientUnits="userSpaceOnUse" x1="660" y1="22" x2="730" y2="100"><stop offset="0" stop-color="#ff0000"/><stop offset="0.3" stop-color="#ff2a10"/><stop offset="0.6" stop-color="#fd7058"/><stop offset="0.85" stop-color="#fcc8c0"/><stop offset="1" stop-color="#ffffff"/></linearGradient>
<linearGradient id="gA" gradientUnits="userSpaceOnUse" x1="968" y1="76" x2="856" y2="119"><stop offset="0" stop-color="#0fae4c"/><stop offset="0.3" stop-color="#2cb862"/><stop offset="0.7" stop-color="#8fd6a8"/><stop offset="1" stop-color="#e2f3e8"/></linearGradient>
<linearGradient id="gC" gradientUnits="userSpaceOnUse" x1="687" y1="228" x2="660" y2="326"><stop offset="0" stop-color="#e6ecf6"/><stop offset="0.35" stop-color="#a9c1ea"/><stop offset="0.7" stop-color="#6e99e0"/><stop offset="1" stop-color="#3f78d4"/></linearGradient>
<clipPath id="pcaclip"><rect x="568" y="0" width="480" height="351.5"/></clipPath>
</defs>
<g id="pca">
<polygon fill="url(#gB)" points="657.2,19.6 696.4,24.4 686.1,32 739.8,90.9 719.2,107.4 663.4,48.1 652.4,54.1"/>
<polygon fill="url(#gA)" points="971.3,74.9 936.4,62.4 940.7,73.7 850.8,108.7 861.7,129.2 951.3,95.9 956.9,105.5"/>
<polygon fill="url(#gC)" points="674.4,225.7 699.4,232 677.9,308.6 689.9,311.9 656.7,328.6 637.5,299.9 652.5,302.9"/>
<text x="702" y="77.6" font-size="20.5" fill="#000" font-weight="bold" text-anchor="middle" >B</text>
<text x="897.1" y="108.6" font-size="20.5" fill="#000" font-weight="bold" text-anchor="middle" >A</text>
<text x="677" y="274.3" font-size="20.5" fill="#000" font-weight="bold" text-anchor="middle" >C</text>
<g clip-path="url(#pcaclip)">
<polygon fill="#2eaa6e" points="585.8,19.5 605,19.5 595.5,34"/>
<polygon fill="#2eaa6e" points="596.7,42.1 617.6,42.1 606.9,58.5"/>
<polygon fill="#2eaa6e" points="585.1,51.3 605.5,51.3 596,67.6"/>
<polygon fill="#af6fe0" points="619.5,88 630.5,78.2 641.5,88 630.5,97.8"/>
<polygon fill="#af6fe0" points="639.5,82.8 650.5,73 661.8,82.8 650.5,92.6"/>
<polygon fill="#af6fe0" points="635.5,85.4 646.5,75.6 657.5,85.4 646.5,95.2"/>
<polygon fill="#a0960f" points="663.9,117.6 681.7,108.8 681.7,126.4"/>
<polygon fill="#a0960f" points="665.5,119.6 684.5,110.2 684.5,129.1"/>
<polygon fill="#a0960f" points="674.5,119.5 693.3,110 693.3,128.9"/>
<rect fill="#555555" x="985.3" y="77.3" width="16.1" height="14"/>
<rect fill="#555555" x="993.3" y="126" width="16.1" height="14"/>
<rect fill="#555555" x="1010.1" y="132.4" width="16.2" height="14.1"/>
<ellipse fill="#f04040" cx="922.9" cy="131.6" rx="8.9" ry="7.9"/>
<ellipse fill="#f04040" cx="930.6" cy="139.3" rx="8.9" ry="7.9"/>
<ellipse fill="#f04040" cx="937.9" cy="142.4" rx="8.9" ry="7.9"/>
<polygon fill="#1a5fd7" points="881.1,148.3 870.3,164.7 892,164.7"/>
<polygon fill="#1a5fd7" points="884,151 873.2,167.2 895,167.2"/>
<polygon fill="#1a5fd7" points="890.5,151.2 879.8,167.2 901.2,167.2"/>
<polygon fill="#e8d830" points="714.4,252.5 717.1,259.3 724.4,259.8 718.8,264.4 720.6,271.5 714.4,267.6 708.2,271.5 710.0,264.4 704.4,259.8 711.7,259.3"/>
<polygon fill="#e8d830" points="729.1,243.7 731.8,250.5 739.1,251.0 733.5,255.6 735.3,262.7 729.1,258.8 722.9,262.7 724.7,255.6 719.1,251.0 726.4,250.5"/>
<polygon fill="#e8d830" points="761.0,243.7 763.7,250.5 771.0,251.0 765.4,255.6 767.2,262.7 761.0,258.8 754.8,262.7 756.6,255.6 751.0,251.0 758.3,250.5"/>
<polygon fill="#7a4040" points="714.4,279.1 724.4,283.7 724.4,292.9 714.4,297.5 704.4,292.9 704.4,283.7"/>
<polygon fill="#7a4040" points="726.4,279.1 736.4,283.7 736.4,292.9 726.4,297.5 716.4,292.9 716.4,283.7"/>
<polygon fill="#10c8c8" points="693.2,336.8 712,346.8 693.2,356.8"/>
<polygon fill="#10c8c8" points="703.9,329.2 722.7,337.9 703.9,346.6"/>
<polygon fill="#10c8c8" points="713.9,339.2 732.8,347.8 713.9,356.4"/>
</g>
<path d="M568.0,18.4 V351.5 H1034.4 M564.2,351.5 H568.0" fill="none" stroke="#000" stroke-width="1.6"/>
<path d="M567.4,351.5 v6.2" stroke="#000" stroke-width="1.5"/>
<text transform="translate(565.0,372.3) scale(1.12,1)" font-size="14" font-weight="bold" text-anchor="middle" stroke="#000" stroke-width="0.3">-3</text>
<path d="M600.8,351.5 v3.4" stroke="#000" stroke-width="1.3"/>
<path d="M634.1,351.5 v6.2" stroke="#000" stroke-width="1.5"/>
<text transform="translate(631.7,372.3) scale(1.12,1)" font-size="14" font-weight="bold" text-anchor="middle" stroke="#000" stroke-width="0.3">-2</text>
<path d="M667.4,351.5 v3.4" stroke="#000" stroke-width="1.3"/>
<path d="M700.8,351.5 v6.2" stroke="#000" stroke-width="1.5"/>
<text transform="translate(698.4,372.3) scale(1.12,1)" font-size="14" font-weight="bold" text-anchor="middle" stroke="#000" stroke-width="0.3">-1</text>
<path d="M734.1,351.5 v3.4" stroke="#000" stroke-width="1.3"/>
<path d="M767.4,351.5 v6.2" stroke="#000" stroke-width="1.5"/>
<text transform="translate(766.8,372.3) scale(1.12,1)" font-size="14" font-weight="bold" text-anchor="middle" stroke="#000" stroke-width="0.3">0</text>
<path d="M800.7,351.5 v3.4" stroke="#000" stroke-width="1.3"/>
<path d="M834.0,351.5 v6.2" stroke="#000" stroke-width="1.5"/>
<text transform="translate(833.4,372.3) scale(1.12,1)" font-size="14" font-weight="bold" text-anchor="middle" stroke="#000" stroke-width="0.3">1</text>
<path d="M867.4,351.5 v3.4" stroke="#000" stroke-width="1.3"/>
<path d="M900.7,351.5 v6.2" stroke="#000" stroke-width="1.5"/>
<text transform="translate(900.1,372.3) scale(1.12,1)" font-size="14" font-weight="bold" text-anchor="middle" stroke="#000" stroke-width="0.3">2</text>
<path d="M934.0,351.5 v3.4" stroke="#000" stroke-width="1.3"/>
<path d="M967.4,351.5 v6.2" stroke="#000" stroke-width="1.5"/>
<text transform="translate(966.8,372.3) scale(1.12,1)" font-size="14" font-weight="bold" text-anchor="middle" stroke="#000" stroke-width="0.3">3</text>
<path d="M1000.7,351.5 v3.4" stroke="#000" stroke-width="1.3"/>
<path d="M1034.0,351.5 v6.2" stroke="#000" stroke-width="1.5"/>
<text transform="translate(1033.4,372.3) scale(1.12,1)" font-size="14" font-weight="bold" text-anchor="middle" stroke="#000" stroke-width="0.3">4</text>
<path d="M568.0,326.1 h-6.6" stroke="#000" stroke-width="1.5"/>
<text transform="translate(551.6,333.2) scale(1.12,1)" font-size="14" font-weight="bold" text-anchor="middle" stroke="#000" stroke-width="0.3">-3</text>
<path d="M568.0,275.0 h-6.6" stroke="#000" stroke-width="1.5"/>
<text transform="translate(551.6,282.1) scale(1.12,1)" font-size="14" font-weight="bold" text-anchor="middle" stroke="#000" stroke-width="0.3">-2</text>
<path d="M568.0,300.6 h-3.6" stroke="#000" stroke-width="1.3"/>
<path d="M568.0,223.8 h-6.6" stroke="#000" stroke-width="1.5"/>
<text transform="translate(551.6,230.9) scale(1.12,1)" font-size="14" font-weight="bold" text-anchor="middle" stroke="#000" stroke-width="0.3">-1</text>
<path d="M568.0,249.4 h-3.6" stroke="#000" stroke-width="1.3"/>
<path d="M568.0,172.7 h-6.6" stroke="#000" stroke-width="1.5"/>
<text transform="translate(551.6,179.8) scale(1.12,1)" font-size="14" font-weight="bold" text-anchor="middle" stroke="#000" stroke-width="0.3">0</text>
<path d="M568.0,198.3 h-3.6" stroke="#000" stroke-width="1.3"/>
<path d="M568.0,121.5 h-6.6" stroke="#000" stroke-width="1.5"/>
<text transform="translate(551.6,128.6) scale(1.12,1)" font-size="14" font-weight="bold" text-anchor="middle" stroke="#000" stroke-width="0.3">1</text>
<path d="M568.0,147.1 h-3.6" stroke="#000" stroke-width="1.3"/>
<path d="M568.0,70.4 h-6.6" stroke="#000" stroke-width="1.5"/>
<text transform="translate(551.6,77.5) scale(1.12,1)" font-size="14" font-weight="bold" text-anchor="middle" stroke="#000" stroke-width="0.3">2</text>
<path d="M568.0,96.0 h-3.6" stroke="#000" stroke-width="1.3"/>
<path d="M568.0,19.2 h-6.6" stroke="#000" stroke-width="1.5"/>
<text transform="translate(551.6,26.4) scale(1.12,1)" font-size="14" font-weight="bold" text-anchor="middle" stroke="#000" stroke-width="0.3">3</text>
<path d="M568.0,44.8 h-3.6" stroke="#000" stroke-width="1.3"/>
<text x="781.4" y="384.6" font-size="19" fill="#000" font-weight="bold" text-anchor="start" textLength="34.6" lengthAdjust="spacingAndGlyphs" stroke="#000" stroke-width="0.5">PC1</text>
<text transform="translate(542.6,191) rotate(-90)" font-size="19" font-weight="bold" stroke="#000" stroke-width="0.5" textLength="30.5" lengthAdjust="spacingAndGlyphs">PC2</text>
<text x="914.3" y="38.6" font-size="24" fill="#000" font-weight="bold" text-anchor="start" textLength="50.3" lengthAdjust="spacingAndGlyphs" >PCA</text>
<rect x="924" y="186.6" width="66" height="158.4" fill="#fff" stroke="#444" stroke-width="1"/>
<rect fill="#555555" x="937.3000000000001" y="190.2" width="14.6" height="12.6"/>
<ellipse fill="#f04040" cx="944.6" cy="213.9" rx="8.3" ry="7.3"/>
<polygon fill="#1a5fd7" points="944.6,223.70000000000002 935.3000000000001,237.3 953.9,237.3"/>
<polygon fill="#2eaa6e" points="944.6,256.7 935.3000000000001,243.1 953.9,243.1"/>
<polygon fill="#af6fe0" points="934.6,266.1 944.6,257.5 954.6,266.1 944.6,274.70000000000005"/>
<polygon fill="#a0960f" points="934.1,283.5 950.6,275.2 950.6,291.8"/>
<polygon fill="#10c8c8" points="955.6,300.9 939.0,292.59999999999997 939.0,309.2"/>
<polygon fill="#7a4040" points="944.6,310.0 952.7,314.1 952.7,322.4 944.6,326.6 936.5,322.4 936.5,314.1"/>
<polygon fill="#e8d830" points="944.6,327.3 947.0,333.3 953.3,333.7 948.4,337.7 950.0,343.9 944.6,340.5 939.2,343.9 940.8,337.7 935.9,333.7 942.2,333.3"/>
<text x="967" y="201.4" font-size="14" fill="#111" font-weight="normal" text-anchor="start" textLength="19.5" lengthAdjust="spacingAndGlyphs" >A1</text>
<text x="967" y="218.8" font-size="14" fill="#111" font-weight="normal" text-anchor="start" textLength="19.5" lengthAdjust="spacingAndGlyphs" >A2</text>
<text x="967" y="236.20000000000002" font-size="14" fill="#111" font-weight="normal" text-anchor="start" textLength="19.5" lengthAdjust="spacingAndGlyphs" >A3</text>
<text x="967" y="253.6" font-size="14" fill="#111" font-weight="normal" text-anchor="start" textLength="19.5" lengthAdjust="spacingAndGlyphs" >B1</text>
<text x="967" y="271.0" font-size="14" fill="#111" font-weight="normal" text-anchor="start" textLength="19.5" lengthAdjust="spacingAndGlyphs" >B2</text>
<text x="967" y="288.4" font-size="14" fill="#111" font-weight="normal" text-anchor="start" textLength="19.5" lengthAdjust="spacingAndGlyphs" >B3</text>
<text x="967" y="305.79999999999995" font-size="14" fill="#111" font-weight="normal" text-anchor="start" textLength="19.5" lengthAdjust="spacingAndGlyphs" >C1</text>
<text x="967" y="323.19999999999993" font-size="14" fill="#111" font-weight="normal" text-anchor="start" textLength="19.5" lengthAdjust="spacingAndGlyphs" >C2</text>
<text x="967" y="340.59999999999997" font-size="14" fill="#111" font-weight="normal" text-anchor="start" textLength="19.5" lengthAdjust="spacingAndGlyphs" >C3</text>
</g>
<!-- panel b heatmaps -->
<g id="panel-b">
<text x="19" y="418.3" font-size="25.5" fill="#000" font-weight="bold" text-anchor="start" textLength="13.6" lengthAdjust="spacingAndGlyphs" stroke="#000" stroke-width="0.7">b</text>
<rect x="76.0" y="405.4" width="81.0" height="39.4" fill="#fff" stroke="#000" stroke-width="2"/>
<rect x="157.0" y="405.4" width="82.3" height="39.4" fill="#1a2c80" stroke="#000" stroke-width="2"/>
<rect x="239.3" y="405.4" width="83.0" height="39.4" fill="#1a2c80" stroke="#000" stroke-width="2"/>
<text x="49.6" y="427.1" font-size="16.3" fill="#000" font-weight="bold" text-anchor="start" textLength="20.8" lengthAdjust="spacingAndGlyphs" >A1</text>
<rect x="76.0" y="458.0" width="81.0" height="40.7" fill="#1a2c80" stroke="#000" stroke-width="2"/>
<rect x="157.0" y="458.0" width="82.3" height="40.7" fill="#fff" stroke="#000" stroke-width="2"/>
<rect x="239.3" y="458.0" width="83.0" height="40.7" fill="#1a2c80" stroke="#000" stroke-width="2"/>
<text x="49.6" y="482.7" font-size="16.3" fill="#000" font-weight="bold" text-anchor="start" textLength="20.8" lengthAdjust="spacingAndGlyphs" >B1</text>
<rect x="76.0" y="511.9" width="81.0" height="40.0" fill="#1a2c80" stroke="#000" stroke-width="2"/>
<rect x="157.0" y="511.9" width="82.3" height="40.0" fill="#1a2c80" stroke="#000" stroke-width="2"/>
<rect x="239.3" y="511.9" width="83.0" height="40.0" fill="#fff" stroke="#000" stroke-width="2"/>
<text x="49.6" y="535.6" font-size="16.3" fill="#000" font-weight="bold" text-anchor="start" textLength="20.8" lengthAdjust="spacingAndGlyphs" >C1</text>
<rect x="113.75" y="557.5" width="3" height="12.8" fill="#000"/>
<rect x="196.25" y="557.5" width="3" height="12.8" fill="#000"/>
<rect x="201.75" y="557.5" width="3" height="12.8" fill="#000"/>
<rect x="278.75" y="557.5" width="3" height="12.8" fill="#000"/>
<rect x="284.25" y="557.5" width="3" height="12.8" fill="#000"/>
<rect x="289.75" y="557.5" width="3" height="12.8" fill="#000"/>
<rect x="399.0" y="405.4" width="81.7" height="39.4" fill="#fff" stroke="#000" stroke-width="2"/>
<rect x="480.7" y="405.4" width="83.0" height="39.4" fill="#28a0c4" stroke="#000" stroke-width="2"/>
<rect x="563.7" y="405.4" width="83.0" height="39.4" fill="#2088c0" stroke="#000" stroke-width="2"/>
<text x="374.4" y="430.9" font-size="16.3" fill="#000" font-weight="bold" text-anchor="start" textLength="20.8" lengthAdjust="spacingAndGlyphs" >A2</text>
<rect x="399.0" y="458.0" width="81.7" height="40.7" fill="#228cc0" stroke="#000" stroke-width="2"/>
<rect x="480.7" y="458.0" width="83.0" height="40.7" fill="#fff" stroke="#000" stroke-width="2"/>
<rect x="563.7" y="458.0" width="83.0" height="40.7" fill="#2490c0" stroke="#000" stroke-width="2"/>
<text x="374.4" y="484.1" font-size="16.3" fill="#000" font-weight="bold" text-anchor="start" textLength="20.8" lengthAdjust="spacingAndGlyphs" >B2</text>
<rect x="399.0" y="511.9" width="81.7" height="40.1" fill="#28a0c4" stroke="#000" stroke-width="2"/>
<rect x="480.7" y="511.9" width="83.0" height="40.1" fill="#28a0c4" stroke="#000" stroke-width="2"/>
<rect x="563.7" y="511.9" width="83.0" height="40.1" fill="#fff" stroke="#000" stroke-width="2"/>
<text x="374.4" y="537.3" font-size="16.3" fill="#000" font-weight="bold" text-anchor="start" textLength="20.8" lengthAdjust="spacingAndGlyphs" >C2</text>
<rect x="443.00" y="556.4" width="3" height="12.8" fill="#000"/>
<rect x="525.75" y="556.4" width="3" height="12.8" fill="#000"/>
<rect x="531.25" y="556.4" width="3" height="12.8" fill="#000"/>
<rect x="608.25" y="556.4" width="3" height="12.8" fill="#000"/>
<rect x="613.75" y="556.4" width="3" height="12.8" fill="#000"/>
<rect x="619.25" y="556.4" width="3" height="12.8" fill="#000"/>
<rect x="724.2" y="404.0" width="82.3" height="38.8" fill="#fff" stroke="#000" stroke-width="2"/>
<rect x="806.5" y="404.0" width="82.9" height="38.8" fill="#50c0c4" stroke="#000" stroke-width="2"/>
<rect x="889.4" y="404.0" width="82.5" height="38.8" fill="#50c0c4" stroke="#000" stroke-width="2"/>
<text x="700" y="429.9" font-size="16.3" fill="#000" font-weight="bold" text-anchor="start" textLength="20.8" lengthAdjust="spacingAndGlyphs" >A3</text>
<rect x="724.2" y="456.0" width="82.3" height="40.4" fill="#58c4c0" stroke="#000" stroke-width="2"/>
<rect x="806.5" y="456.0" width="82.9" height="40.4" fill="#fff" stroke="#000" stroke-width="2"/>
<rect x="889.4" y="456.0" width="82.5" height="40.4" fill="#58c4c0" stroke="#000" stroke-width="2"/>
<text x="700" y="484.6" font-size="16.3" fill="#000" font-weight="bold" text-anchor="start" textLength="20.8" lengthAdjust="spacingAndGlyphs" >B3</text>
<rect x="724.2" y="509.9" width="82.3" height="39.9" fill="#68c8bc" stroke="#000" stroke-width="2"/>
<rect x="806.5" y="509.9" width="82.9" height="39.9" fill="#68c8bc" stroke="#000" stroke-width="2"/>
<rect x="889.4" y="509.9" width="82.5" height="39.9" fill="#fff" stroke="#000" stroke-width="2"/>
<text x="700" y="537.7" font-size="16.3" fill="#000" font-weight="bold" text-anchor="start" textLength="20.8" lengthAdjust="spacingAndGlyphs" >C3</text>
<rect x="761.75" y="556.4" width="3" height="12.8" fill="#000"/>
<rect x="844.50" y="556.4" width="3" height="12.8" fill="#000"/>
<rect x="850.00" y="556.4" width="3" height="12.8" fill="#000"/>
<rect x="927.00" y="556.4" width="3" height="12.8" fill="#000"/>
<rect x="932.50" y="556.4" width="3" height="12.8" fill="#000"/>
<rect x="938.00" y="556.4" width="3" height="12.8" fill="#000"/>
<rect x="983" y="398.20" width="23" height="15.75" fill="#0c1c58"/>
<rect x="983" y="413.65" width="23" height="15.75" fill="#1a2880"/>
<rect x="983" y="429.10" width="23" height="15.75" fill="#2c3498"/>
<rect x="983" y="444.55" width="23" height="15.75" fill="#2860b0"/>
<rect x="983" y="460.00" width="23" height="15.75" fill="#2890c0"/>
<rect x="983" y="475.45" width="23" height="15.75" fill="#38a8c8"/>
<rect x="983" y="490.90" width="23" height="15.75" fill="#50c0c4"/>
<rect x="983" y="506.35" width="23" height="15.75" fill="#70c8b8"/>
<rect x="983" y="521.80" width="23" height="15.75" fill="#a8d4c8"/>
<rect x="983" y="537.25" width="23" height="15.75" fill="#e0e4e4"/>
<rect x="983" y="552.70" width="23" height="8.60" fill="#ffffff"/>
<rect x="1004.2" y="397.6" width="3.6" height="164" fill="#0b123c"/>
<path d="M983.6,397.6 V561 H1007.8" fill="none" stroke="#0a0a20" stroke-width="1.5"/>
<path d="M983,398 H1007.8" fill="none" stroke="#0b123c" stroke-width="1"/>
<text x="1009" y="412.4" font-size="16" fill="#000" font-weight="bold" text-anchor="start" textLength="35.5" lengthAdjust="spacingAndGlyphs" >0.28</text>
<text x="1012.5" y="561" font-size="16" fill="#000" font-weight="bold" text-anchor="start" textLength="9.2" lengthAdjust="spacingAndGlyphs" >0</text>
<text transform="translate(1016.6,428.6) rotate(90)" font-size="18.3" font-weight="bold" textLength="101.5" lengthAdjust="spacingAndGlyphs">Current (µA)</text>
</g>
</g>
</svg>
</body></html>
